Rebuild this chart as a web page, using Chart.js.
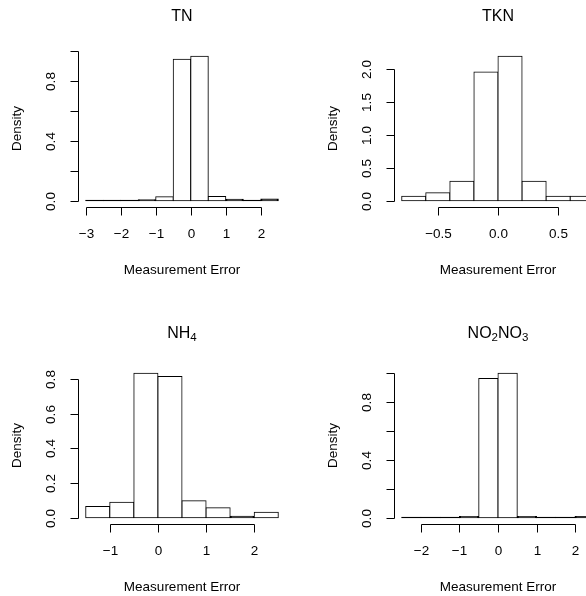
<!DOCTYPE html>
<html>
<head>
<meta charset="utf-8">
<script src="https://cdn.jsdelivr.net/npm/chart.js@4/dist/chart.umd.min.js"></script>
<style>
  html, body { margin: 0; padding: 0; background: #fff; }
  #page { position: relative; width: 586px; height: 596px; overflow: hidden; background: #fff; }
  .cell { position: absolute; width: 317px; height: 317px; }
  .cell canvas { display: block; }
</style>
</head>
<body>
<div id="page">
  <div class="cell" style="left:0;top:0"><canvas id="tn" width="317" height="317"></canvas></div>
  <div class="cell" style="left:316px;top:0"><canvas id="tkn" width="317" height="317"></canvas></div>
  <div class="cell" style="left:0;top:317px"><canvas id="nh4" width="317" height="317"></canvas></div>
  <div class="cell" style="left:316px;top:317px"><canvas id="no3" width="317" height="317"></canvas></div>
</div>
<script>
// histogram bin edges and densities
const tnBreaks = [-3, -2.5, -2, -1.5, -1, -0.5, 0, 0.5, 1, 1.5, 2, 2.5];
const tnDensity = [0.001, 0.001, 0.002, 0.007, 0.026, 0.943, 0.963, 0.028, 0.010, 0.002, 0.011];
const tnXTicks = [-3, -2, -1, 0, 1, 2];
const tnXLabels = ['\u22123', '\u22122', '\u22121', '0', '1', '2'];
const tnYTicks = [0, 0.2, 0.4, 0.6, 0.8, 1.0];
const tnYLabels = ['0.0', '', '0.4', '', '0.8', ''];

const tknBreaks = [-0.8, -0.6, -0.4, -0.2, 0, 0.2, 0.4, 0.6, 0.8];
const tknDensity = [0.066, 0.121, 0.293, 1.949, 2.187, 0.293, 0.066, 0.066];
const tknXTicks = [-0.5, 0, 0.5];
const tknXLabels = ['\u22120.5', '0.0', '0.5'];
const tknYTicks = [0, 0.5, 1.0, 1.5, 2.0];
const tknYLabels = ['0.0', '0.5', '1.0', '1.5', '2.0'];

const nh4Breaks = [-1.5, -1, -0.5, 0, 0.5, 1, 1.5, 2, 2.5];
const nh4Density = [0.065, 0.090, 0.834, 0.815, 0.098, 0.058, 0.009, 0.032];
const nh4XTicks = [-1, 0, 1, 2];
const nh4XLabels = ['\u22121', '0', '1', '2'];
const nh4YTicks = [0, 0.2, 0.4, 0.6, 0.8];
const nh4YLabels = ['0.0', '0.2', '0.4', '0.6', '0.8'];

const no3Breaks = [-2.5, -2, -1.5, -1, -0.5, 0, 0.5, 1, 1.5, 2, 2.5];
const no3Density = [0.001, 0.001, 0.001, 0.009, 0.963, 1.0, 0.009, 0.002, 0.001, 0.008];
const no3XTicks = [-2, -1, 0, 1, 2];
const no3XLabels = ['\u22122', '\u22121', '0', '1', '2'];
const no3YTicks = [0, 0.2, 0.4, 0.6, 0.8, 1.0];
const no3YLabels = ['0.0', '', '0.4', '', '0.8', ''];

// titles as text runs, sub = subscript
const tnTitle = [{ t: 'TN' }];
const tknTitle = [{ t: 'TKN' }];
const nh4Title = [{ t: 'NH' }, { t: '4', sub: true }];
const no3Title = [{ t: 'NO' }, { t: '2', sub: true }, { t: 'NO' }, { t: '3', sub: true }];

const xTitle = 'Measurement Error';
const yTitle = 'Density';

const FONT = '"Liberation Sans", Arial, Helvetica, sans-serif';

// base-graphics style axes: line only between first and last tick
const rAxes = {
  id: 'rAxes',
  afterDraw(chart, args, opts) {
    const { ctx, chartArea: a, scales: { x, y } } = chart;
    const bottom = Math.round(a.bottom) + 0.5;
    const left = Math.round(a.left) + 0.5;
    ctx.save();
    ctx.strokeStyle = '#000';
    ctx.fillStyle = '#000';
    ctx.lineWidth = 1;

    const xp = x.ticks.map(t => Math.round(x.getPixelForValue(t.value)) + 0.5);
    const yp = y.ticks.map(t => Math.round(y.getPixelForValue(t.value)) + 0.5);
    ctx.beginPath();
    ctx.moveTo(xp[0], bottom);
    ctx.lineTo(xp[xp.length - 1], bottom);
    xp.forEach(p => { ctx.moveTo(p, bottom); ctx.lineTo(p, bottom + 8); });
    ctx.moveTo(left, yp[0]);
    ctx.lineTo(left, yp[yp.length - 1]);
    yp.forEach(p => { ctx.moveTo(left, p); ctx.lineTo(left - 8, p); });
    ctx.stroke();

    ctx.font = '13.5px ' + FONT;
    ctx.textAlign = 'center';
    ctx.textBaseline = 'alphabetic';
    opts.xLabels.forEach((s, i) => ctx.fillText(s, xp[i], a.bottom + 31));
    ctx.fillText(xTitle, (a.left + a.right) / 2, a.bottom + 67);

    opts.yLabels.forEach((s, i) => {
      if (!s) return;
      ctx.save();
      ctx.translate(a.left - 23.5, yp[i]);
      ctx.rotate(-Math.PI / 2);
      ctx.fillText(s, 0, 0);
      ctx.restore();
    });
    ctx.save();
    ctx.translate(a.left - 57, (a.top + a.bottom) / 2);
    ctx.rotate(-Math.PI / 2);
    ctx.fillText(yTitle, 0, 0);
    ctx.restore();

    // main title with subscripts
    const big = '16px ' + FONT, small = '11.5px ' + FONT;
    let w = 0;
    opts.title.forEach(r => { ctx.font = r.sub ? small : big; w += ctx.measureText(r.t).width; });
    let cx = (a.left + a.right) / 2 - w / 2;
    ctx.textAlign = 'left';
    opts.title.forEach(r => {
      ctx.font = r.sub ? small : big;
      ctx.fillText(r.t, cx, r.sub ? 24 : 20.5);
      cx += ctx.measureText(r.t).width;
    });
    ctx.restore();
  }
};

// a bar thinner than its outline shows only the outline, as in base graphics
function barFill(c) {
  const y = c.chart.scales.y;
  if (!y || !c.parsed) return '#fff';
  const h = Math.abs(y.getPixelForValue(c.parsed.y) - y.getPixelForValue(0));
  return h < 2.5 ? '#000' : '#fff';
}

function makeHist(id, title, breaks, density, xTicks, xLabels, yTicks, yLabels) {
  const pts = density.map((d, i) => ({ x: (breaks[i] + breaks[i + 1]) / 2, y: d }));
  const lo = breaks[0], hi = breaks[breaks.length - 1];
  const xPad = 0.04 * (hi - lo);
  const yMax = Math.max(...density);

  new Chart(document.getElementById(id), {
    type: 'bar',
    data: {
      datasets: [{
        data: pts,
        backgroundColor: barFill,
        borderColor: '#000',
        borderWidth: 1,
        borderSkipped: false,
        inflateAmount: 0.5,
        minBarLength: 0.5,
        barPercentage: 1,
        categoryPercentage: 1
      }]
    },
    options: {
      responsive: false,
      animation: false,
      devicePixelRatio: 1,
      layout: { padding: { left: 78, top: 50.5, right: 31, bottom: 110.5 } },
      plugins: {
        legend: { display: false },
        tooltip: { enabled: false },
        rAxes: { title, xLabels, yLabels }
      },
      scales: {
        x: {
          type: 'linear', display: false, offset: false,
          min: lo - xPad, max: hi + xPad,
          ticks: { autoSkip: false },
          afterBuildTicks: s => { s.ticks = xTicks.map(v => ({ value: v })); }
        },
        y: {
          type: 'linear', display: false,
          min: -0.04 * yMax, max: 1.04 * yMax,
          ticks: { autoSkip: false },
          afterBuildTicks: s => { s.ticks = yTicks.map(v => ({ value: v })); }
        }
      }
    },
    plugins: [rAxes]
  });
}

makeHist('tn', tnTitle, tnBreaks, tnDensity, tnXTicks, tnXLabels, tnYTicks, tnYLabels);
makeHist('tkn', tknTitle, tknBreaks, tknDensity, tknXTicks, tknXLabels, tknYTicks, tknYLabels);
makeHist('nh4', nh4Title, nh4Breaks, nh4Density, nh4XTicks, nh4XLabels, nh4YTicks, nh4YLabels);
makeHist('no3', no3Title, no3Breaks, no3Density, no3XTicks, no3XLabels, no3YTicks, no3YLabels);
</script>
</body>
</html>
